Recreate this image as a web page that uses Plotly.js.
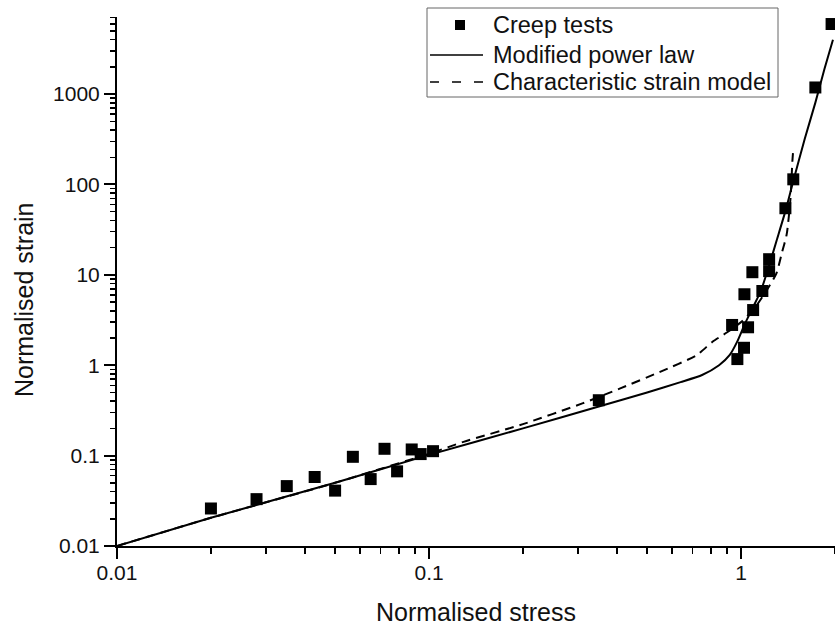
<!DOCTYPE html>
<html>
<head>
<meta charset="utf-8">
<script src="https://cdn.plot.ly/plotly-3.0.1.min.js"></script>
<style>html,body{margin:0;padding:0;background:#fff;}#chart{width:835px;height:632px;}</style>
</head>
<body>
<div id="chart"></div>
<script>
// Creep tests (normalised stress, normalised strain)
var creepStress = [0.020, 0.028, 0.035, 0.043, 0.050, 0.057, 0.065, 0.072, 0.079, 0.088, 0.094, 0.103, 0.35,
                   0.936, 0.973, 1.022, 1.025, 1.053, 1.087, 1.093, 1.17, 1.23, 1.23, 1.387, 1.47, 1.73, 1.95];
var creepStrain = [0.026, 0.033, 0.046, 0.058, 0.041, 0.097, 0.055, 0.119, 0.067, 0.117, 0.104, 0.112, 0.41,
                   2.79, 1.17, 1.56, 6.1, 2.63, 10.7, 4.08, 6.63, 14.9, 11.0, 54.6, 114, 1184, 5960];

// Modified power law curve
var powerStress = [0.01, 0.02, 0.05, 0.1, 0.2, 0.35, 0.5, 0.64, 0.75, 0.85, 0.92, 0.97, 1.03, 1.1, 1.16, 1.236, 1.3, 1.39, 1.47, 1.6, 1.73, 1.85, 1.97];
var powerStrain = [0.01, 0.0205, 0.05, 0.102, 0.2, 0.35, 0.5, 0.65, 0.78, 1.0, 1.3, 1.8, 2.9, 4.6, 6.8, 13.4, 24, 52, 109, 320, 805, 1900, 4000];

// Characteristic strain model curve
var charStress = [0.01, 0.02, 0.05, 0.1, 0.129, 0.2, 0.31, 0.41, 0.55, 0.72, 0.81, 0.9, 1.0, 1.1, 1.2, 1.298, 1.35, 1.4, 1.44, 1.46, 1.468];
var charStrain = [0.01, 0.0205, 0.05, 0.105, 0.142, 0.223, 0.378, 0.554, 0.845, 1.29, 1.82, 2.3, 3.0, 4.2, 6.5, 10.4, 17.3, 28, 70, 180, 230];

var seriesNames = ['Creep tests', 'Modified power law', 'Characteristic strain model'];

var xTickVals = [0.01, 0.1, 1];
var xTickText = ["0.01", "0.1", "1"];
var yTickVals = [0.01, 0.1, 1, 10, 100, 1000];
var yTickText = ["0.01", "0.1", "1", "10", "100", "1000"];

var FONT = "Liberation Sans, Arial, sans-serif";
var TXT = '#111';

var traces = [
  {x: creepStress, y: creepStrain, type: 'scatter', mode: 'markers', name: seriesNames[0],
   marker: {symbol: 'square', size: 12, color: '#000'}, cliponaxis: false, showlegend: false},
  {x: powerStress, y: powerStrain, type: 'scatter', mode: 'lines', name: seriesNames[1],
   line: {color: '#000', width: 2, shape: 'spline', smoothing: 0.6}, showlegend: false},
  {x: charStress, y: charStrain, type: 'scatter', mode: 'lines', name: seriesNames[2],
   line: {color: '#000', width: 2, dash: '9px,6px', shape: 'spline', smoothing: 0.6}, showlegend: false}
];

// Legend drawn as paper-positioned box, samples and labels
// plot area: x 117..835 px, y 17..546 px
function px(x) { return (x - 117) / 718; }
function py(y) { return (546 - y) / 529; }

var legendRows = [25, 55, 82];
var shapes = [
  {type: 'rect', xref: 'paper', yref: 'paper', x0: px(427), x1: px(778), y0: py(97), y1: py(8),
   line: {color: '#666', width: 1}, fillcolor: '#fff', layer: 'above'},
  {type: 'rect', xref: 'paper', yref: 'paper', x0: px(455), x1: px(465), y0: py(legendRows[0] + 5), y1: py(legendRows[0] - 5),
   line: {width: 0}, fillcolor: '#000', layer: 'above'},
  {type: 'line', xref: 'paper', yref: 'paper', x0: px(430), x1: px(483), y0: py(legendRows[1]), y1: py(legendRows[1]),
   line: {color: '#000', width: 1.5}, layer: 'above'},
  {type: 'line', xref: 'paper', yref: 'paper', x0: px(430), x1: px(483), y0: py(legendRows[2]), y1: py(legendRows[2]),
   line: {color: '#000', width: 1.5, dash: '9px,13px'}, layer: 'above'}
];
var annotations = seriesNames.map(function (name, i) {
  return {text: name, xref: 'paper', yref: 'paper', x: px(491), y: py(legendRows[i]),
          xanchor: 'left', yanchor: 'middle', showarrow: false,
          font: {family: FONT, size: 23.5, color: TXT}};
});
annotations.push({text: 'Normalised strain', xref: 'paper', yref: 'paper', x: px(24), y: py(300),
                  xanchor: 'center', yanchor: 'middle', showarrow: false, textangle: -90,
                  font: {family: FONT, size: 25, color: TXT}});

var layout = {
  width: 835, height: 632,
  margin: {l: 117, r: 0, t: 17, b: 86},
  paper_bgcolor: '#fff', plot_bgcolor: '#fff',
  font: {family: FONT, size: 21, color: TXT},
  showlegend: false,
  shapes: shapes,
  annotations: annotations,
  xaxis: {
    type: 'log', range: [-2, 0.301],
    tickvals: xTickVals, ticktext: xTickText,
    ticks: 'outside', ticklen: 11, tickwidth: 2, tickcolor: '#000',
    ticklabelstandoff: -4,
    showline: true, linecolor: '#000', linewidth: 2, mirror: false,
    showgrid: false, zeroline: false,
    minor: {ticks: 'outside', ticklen: 6, tickwidth: 1.5, tickcolor: '#000', dtick: 'D1', showgrid: false},
    tickfont: {family: FONT, size: 21, color: TXT},
    title: {text: 'Normalised stress', font: {family: FONT, size: 25, color: TXT}, standoff: 20}
  },
  yaxis: {
    type: 'log', range: [-2, 3.853],
    tickvals: yTickVals, ticktext: yTickText,
    ticks: 'outside', ticklen: 11, tickwidth: 2, tickcolor: '#000',
    showline: true, linecolor: '#000', linewidth: 2, mirror: false,
    showgrid: false, zeroline: false,
    minor: {ticks: 'outside', ticklen: 5, tickwidth: 1.5, tickcolor: '#000', dtick: 'D1', showgrid: false},
    tickfont: {family: FONT, size: 21, color: TXT}
  }
};

Plotly.newPlot('chart', traces, layout, {displayModeBar: false, staticPlot: true});
</script>
</body>
</html>
